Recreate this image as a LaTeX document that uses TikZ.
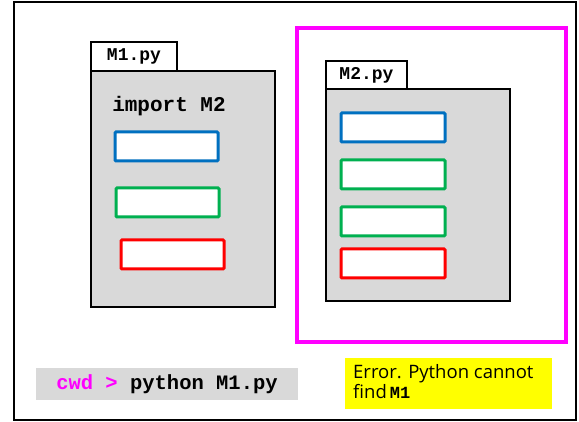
\documentclass[tikz,border=0pt]{standalone}
\usepackage{fontspec}
\setmainfont{Open Sans}
\newfontfamily\codefont{Liberation Mono}
\definecolor{fold}{HTML}{D9D9D9}
\definecolor{cblue}{HTML}{0070C0}
\definecolor{cgreen}{HTML}{00B050}
\definecolor{cred}{HTML}{FF0000}
\definecolor{cmag}{HTML}{FF00FF}
\definecolor{cyel}{HTML}{FFFF00}
\tikzset{
  box/.style={draw, inner sep=0pt, outer sep=0pt, anchor=north west},
  tab/.style={box, fill=white, line width=2.5pt, font=\codefont\bfseries\fontsize{18}{21}\selectfont},
  body/.style={box, fill=fold, line width=2.5pt},
  fn/.style={box, fill=white, line width=3pt, rounded corners=1pt,
             minimum width=103pt, minimum height=29pt},
  code/.style={font=\codefont\bfseries\fontsize{21}{24}\selectfont},
}
\begin{document}
\begin{tikzpicture}[x=1pt, y=-1pt]
  \useasboundingbox (0,0) rectangle (579,422);
  % page frame
  \node[box, line width=2pt, minimum width=562pt, minimum height=418pt] (frame) at (14,2) {};

  % module M1
  \node[body, minimum width=184pt, minimum height=236pt] (m1) at (91,71) {};
  \node[tab, minimum width=86pt, minimum height=29pt] (m1tab) at (91,42) {M1.py};
  \node[code] (imp) at (169,106) {import M2};
  \node[fn, draw=cblue] (m1a) at (115,132) {};
  \node[fn, draw=cgreen] (m1b) at (116,188) {};
  \node[fn, draw=cred] (m1c) at (121,240) {};

  % search path highlight and module M2
  \node[box, draw=cmag, line width=3.5pt, minimum width=269pt, minimum height=314pt] (path) at (297,28) {};
  \node[body, minimum width=184pt, minimum height=212pt] (m2) at (326,89) {};
  \node[tab, minimum width=81pt, minimum height=28pt] (m2tab) at (326,61) {M2.py};
  \node[fn, draw=cblue, minimum width=104pt] (m2a) at (341,113) {};
  \node[fn, draw=cgreen, minimum width=104pt] (m2b) at (341,160) {};
  \node[fn, draw=cgreen, minimum width=104pt] (m2c) at (341,207) {};
  \node[fn, draw=cred, minimum width=104pt] (m2d) at (341,249) {};

  % command line
  \node[box, draw=none, fill=fold, minimum width=262pt, minimum height=32pt] (cmd) at (36,368) {};
  \node[code, font=\codefont\bfseries\fontsize{20.5}{24}\selectfont] (cmdtxt) at (cmd.center)
    {\textcolor{cmag}{cwd >} python M1.py};

  % error message (anchored on the baseline of its last line)
  \node[box, draw=none, fill=cyel, minimum width=207pt, minimum height=51pt] (err) at (345,358) {};
  \node[anchor=base west, inner sep=0pt, align=left,
        font=\fontsize{18.5}{20.5}\selectfont] (errtxt) at (353,399)
    {Error. Python cannot\\find\,{\codefont\bfseries\fontsize{17}{20}\selectfont M1}};
\end{tikzpicture}
\end{document}
